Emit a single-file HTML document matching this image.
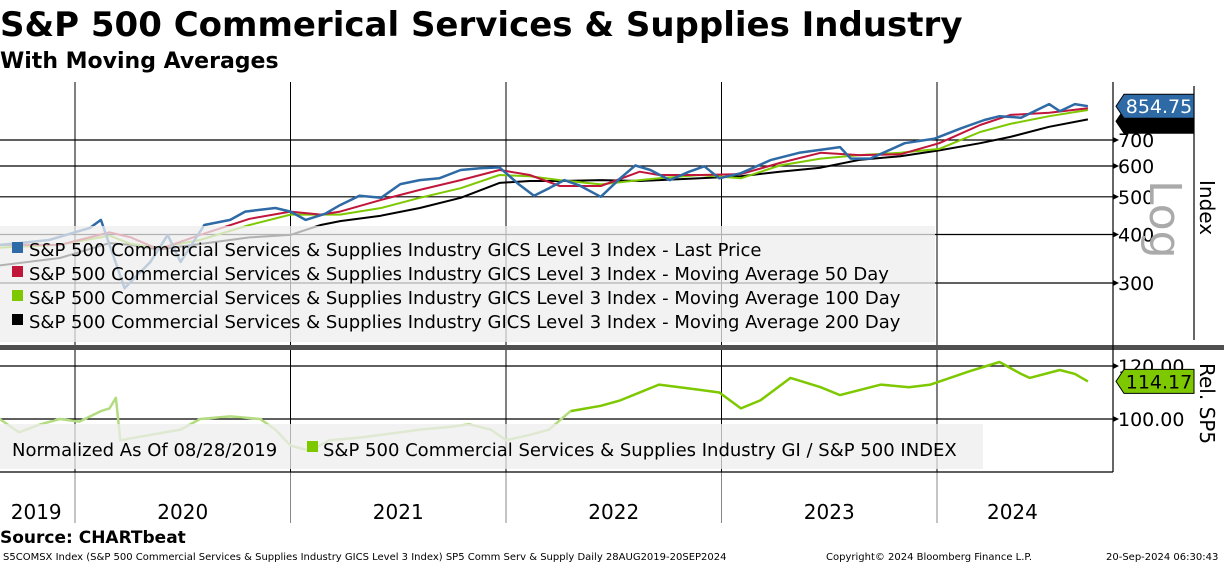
<!DOCTYPE html>
<html><head><meta charset="utf-8"><style>
body{margin:0;width:1224px;height:565px;overflow:hidden;background:#fff;font-family:"DejaVu Sans","Liberation Sans",sans-serif;}
svg text{font-family:"DejaVu Sans","Liberation Sans",sans-serif;}
</style></head><body>
<svg id="c" width="1224" height="565" xmlns="http://www.w3.org/2000/svg">
<text x="0" y="36" font-size="34" font-weight="bold">S&amp;P 500 Commerical Services &amp; Supplies Industry</text>
<text x="0" y="68" font-size="22" font-weight="bold">With Moving Averages</text>
<g id="grid"></g>
<g id="series"></g>
<rect x="0" y="226" width="935" height="116" fill="rgba(238,238,238,0.75)"/>
<g font-size="18">
<rect x="12" y="242" width="11" height="11" fill="#2e6aa6"/>
<text x="29" y="256">S&amp;P 500 Commercial Services &amp; Supplies Industry GICS Level 3 Index - Last Price</text>
<rect x="12" y="266" width="11" height="11" fill="#c0163a"/>
<text x="29" y="280">S&amp;P 500 Commercial Services &amp; Supplies Industry GICS Level 3 Index - Moving Average 50 Day</text>
<rect x="12" y="290" width="11" height="11" fill="#7ec800"/>
<text x="29" y="304">S&amp;P 500 Commercial Services &amp; Supplies Industry GICS Level 3 Index - Moving Average 100 Day</text>
<rect x="12" y="314" width="11" height="11" fill="#000"/>
<text x="29" y="328">S&amp;P 500 Commercial Services &amp; Supplies Industry GICS Level 3 Index - Moving Average 200 Day</text>
</g>
<rect x="0" y="345" width="1224" height="5" fill="#505050"/>
<rect x="0" y="424" width="983" height="45" fill="rgba(238,238,238,0.75)"/>
<text x="12" y="456" font-size="18">Normalized As Of 08/28/2019</text>
<rect x="307" y="441" width="11" height="11" fill="#7ec800"/>
<text x="323" y="456" font-size="18">S&amp;P 500 Commercial Services &amp; Supplies Industry GI / S&amp;P 500 INDEX</text>
<g id="axes"></g>
<text x="0" y="543" font-size="17" font-weight="bold">Source:  CHARTbeat</text>
<text x="3" y="560" font-size="10">S5COMSX Index (S&amp;P 500 Commercial Services &amp; Supplies Industry GICS Level 3 Index) SP5 Comm Serv &amp; Supply  Daily 28AUG2019-20SEP2024</text>
<text x="826" y="560" font-size="10">Copyright© 2024 Bloomberg Finance L.P.</text>
<text x="1106" y="560" font-size="10">20-Sep-2024 06:30:43</text>
</svg>
<script>
const priceDates=[2019.65,2019.74,2019.88,2020.07,2020.12,2020.14,2020.23,2020.35,2020.43,2020.49,2020.60,2020.72,2020.79,2020.86,2020.93,2021.00,2021.07,2021.16,2021.23,2021.32,2021.42,2021.51,2021.60,2021.69,2021.79,2021.88,2021.97,2022.06,2022.13,2022.20,2022.27,2022.34,2022.44,2022.53,2022.60,2022.67,2022.76,2022.85,2022.92,2022.99,2023.09,2023.23,2023.36,2023.55,2023.60,2023.69,2023.85,2023.99,2024.11,2024.22,2024.29,2024.39,2024.52,2024.57,2024.64,2024.70];
const lastPrice=[376,380,387,416,436,405,291,340,399,340,423,436,458,463,468,458,436,452,476,503,497,539,552,558,586,592,595,538,503,526,552,535,500,558,602,586,552,580,599,558,575,622,649,671,627,627,687,706,750,788,806,799,866,830,866,855];
const maDates=[2019.65,2019.93,2020.16,2020.26,2020.39,2020.58,2020.81,2021.00,2021.14,2021.23,2021.42,2021.60,2021.79,2021.97,2022.11,2022.25,2022.44,2022.62,2022.71,2022.90,2023.09,2023.27,2023.46,2023.64,2023.83,2024.01,2024.20,2024.34,2024.52,2024.70];
const ma50=[376,376,405,393,366,399,439,458,450,458,491,521,552,586,569,533,533,580,569,569,572,611,649,640,643,687,765,812,823,845];
const ma100=[370,376,397,378,370,387,423,450,450,450,468,497,526,569,565,552,538,552,558,569,558,602,627,640,649,664,734,770,806,836];
const ma200=[333,348,380,376,366,378,393,399,423,433,447,468,497,543,549,549,552,549,552,558,565,580,594,622,636,658,687,713,757,791];
const relDates=[2019.65,2019.74,2019.84,2019.93,2020.02,2020.12,2020.16,2020.19,2020.21,2020.35,2020.49,2020.58,2020.72,2020.86,2020.93,2021.00,2021.09,2021.18,2021.32,2021.42,2021.60,2021.74,2021.83,2021.93,2022.00,2022.11,2022.20,2022.30,2022.44,2022.53,2022.71,2022.90,2022.99,2023.09,2023.18,2023.32,2023.46,2023.55,2023.74,2023.87,2023.97,2024.15,2024.29,2024.39,2024.43,2024.57,2024.64,2024.70];
const relValues=[100,95,98,100,99,103,104,108,92,94,96,100,101,100,96,90,88,92,93,94,96,97,98,96,92,94,96,103,105,107,113,111,110,104,107,115.5,112,109,113,112,113,118,121.5,117,115.5,118.5,117,114.2];
const priceTicks=[300,400,500,600,700];
const relTicks=[100,120];
const relTickLabels=["100.00","120.00"];
const yearStarts=[2020,2021,2022,2023,2024];
const yearLabels=["2019","2020","2021","2022","2023","2024"];
const yearLabelPos=[2019.82,2020.5,2021.5,2022.5,2023.5,2024.35];

const NS="http://www.w3.org/2000/svg";
const X=t=>75+(t-2020)*215.5;
const YP=v=>140-Math.log(v/700)*168.8;
const YR=v=>419-(v-100)*2.65;
function mk(tag,attrs,parent){const e=document.createElementNS(NS,tag);for(const k in attrs)e.setAttribute(k,attrs[k]);document.getElementById(parent).appendChild(e);return e;}
priceTicks.forEach(v=>{const l=mk('line',{x1:0,x2:1113,y1:YP(v),y2:YP(v),stroke:'#000','stroke-width':1.2},'grid');

});
relTicks.forEach(v=>{const l=mk('line',{x1:0,x2:1113,y1:YR(v),y2:YR(v),stroke:'#000','stroke-width':1.2},'grid');

});
yearStarts.forEach(t=>{const l=mk('line',{x1:X(t),x2:X(t),y1:82,y2:345,stroke:'#000','stroke-width':1},'grid');


const l2=mk('line',{x1:X(t),x2:X(t),y1:350,y2:472,stroke:'#000','stroke-width':1},'grid');


const l3=mk('line',{x1:X(t),x2:X(t),y1:472,y2:523,stroke:'#888','stroke-width':1},'grid');

});
function poly(dates,vals,yf,color,w,name){const d=dates.map((t,i)=>X(t).toFixed(1)+','+yf(vals[i]).toFixed(1)).join(' ');
const p=mk('polyline',{points:d,fill:'none',stroke:color,'stroke-width':w,'stroke-linejoin':'round'},'series');

}
poly(maDates,ma200,YP,'#000',2,'ma200-line');
poly(maDates,ma100,YP,'#7ec800',2,'ma100-line');
poly(maDates,ma50,YP,'#c0163a',2,'ma50-line');
poly(priceDates,lastPrice,YP,'#2e6aa6',2.5,'last-price-line');
const split=relDates.findIndex(t=>t>=2022.3);
poly(relDates.slice(0,split+1),relValues.slice(0,split+1),YR,'#b3dc80',2.5,'rel-sp5-line-early');
poly(relDates.slice(split),relValues.slice(split),YR,'#7ec800',2.5,'rel-sp5-line');
const ax=[[1113,82,1113,472],[0,472,1113,472],[1194,86,1194,340]];
ax.forEach(a=>{const l=mk('line',{x1:a[0],y1:a[1],x2:a[2],y2:a[3],stroke:'#000','stroke-width':1.2},'axes');

});
priceTicks.forEach(v=>{const p=mk('path',{d:`M1113 ${YP(v)-3} L1119 ${YP(v)} L1113 ${YP(v)+3}Z`,fill:'#000'},'axes');


const t=mk('text',{x:1118,y:YP(v)+7,'font-size':19},'axes');t.textContent=v;

});
relTicks.forEach((v,i)=>{const p=mk('path',{d:`M1113 ${YR(v)-3} L1119 ${YR(v)} L1113 ${YR(v)+3}Z`,fill:'#000'},'axes');


const t=mk('text',{x:1118,y:YR(v)+7,'font-size':19},'axes');t.textContent=relTickLabels[i];

});
yearLabels.forEach((s,i)=>{const t=mk('text',{x:X(yearLabelPos[i]),y:519,'font-size':20,'text-anchor':'middle'},'axes');t.textContent=s;

});
function tag(y,bg,fg,txt,name){const g=mk('g',{},'axes');


const r=document.createElementNS(NS,'path');r.setAttribute('d',`M1116 ${y} L1124 ${y-12} L1194 ${y-12} L1194 ${y+12} L1124 ${y+12}Z`);r.setAttribute('fill',bg);r.setAttribute('stroke','#000');g.appendChild(r);
const t=document.createElementNS(NS,'text');t.setAttribute('x',1159);t.setAttribute('y',y+7);t.setAttribute('font-size',19);t.setAttribute('text-anchor','middle');t.setAttribute('fill',fg);t.textContent=txt;g.appendChild(t);}
tag(YP(lastPrice[lastPrice.length-1])+15,'#000','#fff','','ma-tags');
tag(YP(lastPrice[lastPrice.length-1]),'#2e6aa6','#fff','854.75','last-price-tag');
tag(YR(relValues[relValues.length-1]),'#7ec800','#000','114.17','rel-value-tag');
const lg=mk('text',{x:0,y:0,'font-size':44,fill:'#aaa',transform:'translate(1150,180) rotate(90)'},'axes');lg.textContent='Log';


const ix=mk('text',{x:0,y:0,'font-size':20,transform:'translate(1200,180) rotate(90)'},'axes');ix.textContent='Index';


const rs=mk('text',{x:0,y:0,'font-size':20,transform:'translate(1200,363) rotate(90)'},'axes');rs.textContent='Rel. SP5';


</script>
</body></html>
